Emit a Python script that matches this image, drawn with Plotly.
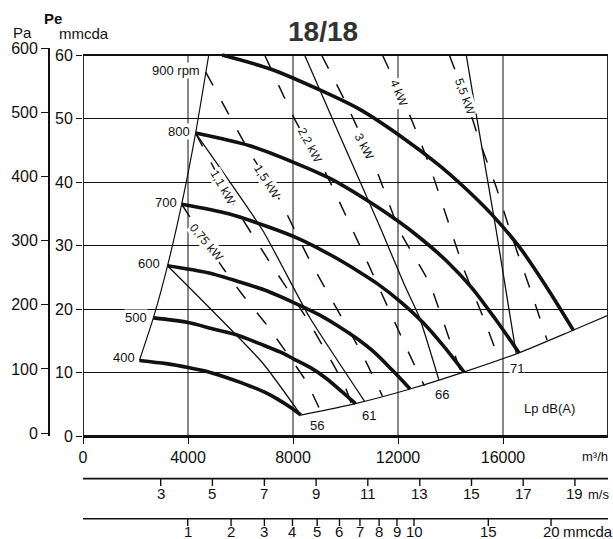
import plotly.graph_objects as go

# ---------------- data ----------------
# fan curves: flow Q (m3/h) and static pressure Pe (mmcda)
rpm_names = ["400", "500", "600", "700", "800", "900 rpm"]
q400 = [2150, 3170, 4010, 4690, 5400, 6020, 6400, 6920, 7410, 7870, 8300]
p400 = [11.9, 11.4, 10.8, 10.2, 9.3, 8.4, 7.8, 6.9, 5.8, 4.6, 3.3]
q500 = [2680, 3970, 5010, 5870, 6750, 7530, 8000, 8650, 9260, 9830, 10380]
p500 = [18.6, 17.9, 16.8, 15.9, 14.5, 13.2, 12.2, 10.8, 9.1, 7.1, 5.1]
q600 = [3220, 4760, 6010, 7040, 8090, 9040, 9610, 10380, 11120, 11800, 12460]
p600 = [26.8, 25.7, 24.2, 22.8, 20.9, 19.0, 17.6, 15.5, 13.1, 10.3, 7.4]
q700 = [3760, 5550, 7020, 8210, 9440, 10540, 11210, 12110, 12970, 13770, 14530]
p700 = [36.5, 35.0, 33.0, 31.1, 28.5, 25.8, 24.0, 21.1, 17.8, 14.0, 10.0]
q800 = [4290, 6350, 8020, 9390, 10790, 12050, 12810, 13840, 14820, 15730, 16610]
p800 = [47.7, 45.7, 43.1, 40.6, 37.2, 33.7, 31.3, 27.6, 23.3, 18.3, 13.1]
q900 = [5300, 7140, 9020, 10560, 12140, 13550, 14410, 15570, 16670, 17700, 18690]
p900 = [60.0, 57.8, 54.5, 51.4, 47.1, 42.7, 39.6, 34.9, 29.5, 23.2, 16.6]
rpm_q = [q400, q500, q600, q700, q800, q900]
rpm_p = [p400, p500, p600, p700, p800, p900]
rpm_label_q = [2015, 2471, 2966, 3612, 4106, 4486]
rpm_label_p = [12.3, 18.7, 27.2, 36.7, 47.9, 57.6]

# left limit line and lower (sound level) line
lim_q = [2150, 2680, 3220, 3760, 4290, 4790]
lim_p = [11.9, 18.6, 26.8, 36.5, 47.7, 60.0]
db_q = [8300, 10380, 12460, 14530, 16610, 18690, 20000]
db_p = [3.3, 5.1, 7.4, 10.1, 13.1, 16.7, 19.0]
db_names = ["56", "61", "66", "71"]
db_label_q = [8897, 10912, 13687, 16539]
db_label_p = [1.7, 3.3, 6.5, 10.7]

# thin solid lines (ending at 56 / 61 / 66 / 71 dB)
thin_q = [[3220, 6843, 8300],
          [4290, 6843, 8631, 10722],
          [8441, 9771, 11368, 12243, 12813, 13560],
          [14600, 14980, 15740, 16500]]
thin_p = [[26.8, 11.5, 3.3],
          [47.7, 32.4, 18.7, 5.5],
          [60.0, 47.4, 32.4, 23.8, 18.7, 8.8],
          [60.0, 50.6, 32.4, 13.0]]

# dashed absorbed power lines
kw_names = ["0,75 kW", "1,1 kW", "1,5 kW", "2,2 kW", "3 kW", "4 kW", "5,5 kW"]
kw_q = [[3760, 5323, 6083, 6996, 8517, 9050],
        [4290, 5703, 7110, 8555, 9962, 10228],
        [4676, 6350, 7490, 8631, 10646, 11406],
        [6920, 8137, 9125, 10532, 12319, 13004],
        [9087, 9962, 11178, 12052, 13193, 14068, 14410],
        [11406, 12319, 13193, 13954, 14524, 15360, 15854],
        [13954, 14562, 15094, 15740, 16348, 17071, 17679]]
kw_p = [[36.5, 26.5, 22.2, 17.5, 8.5, 3.9],
        [47.7, 36.7, 27.4, 18.3, 8.0, 5.0],
        [57.3, 44.7, 37.2, 27.7, 12.8, 6.3],
        [60.0, 49.3, 42.4, 30.1, 13.9, 7.9],
        [60.0, 52.9, 41.9, 32.4, 24.1, 13.9, 9.9],
        [60.0, 51.8, 42.7, 33.2, 26.1, 17.5, 12.0],
        [60.0, 53.4, 46.6, 39.2, 31.3, 22.7, 15.1]]
kw_label_q = [4723, 5320, 7020, 8638, 10720, 12030, 14562]
kw_label_p = [30.4, 39.2, 40.0, 45.8, 45.5, 54.0, 53.4]
kw_label_angle = [50, 60, 57, 62, 63, 68, 70]

# axes
q_ticks = [0, 4000, 8000, 12000, 16000]
q_grid = [4000, 8000, 12000, 16000]
pe_ticks = [0, 10, 20, 30, 40, 50, 60]
pa_ticks = [0, 100, 200, 300, 400, 500, 600]
# outlet velocity scale (m/s) placed at the flow values they correspond to
vel_labels = ["3", "5", "7", "9", "11", "13", "15", "17", "19"]
vel_q = [2960, 4930, 6910, 8880, 10850, 12830, 14800, 16770, 18740]
# dynamic pressure scale (mmcda)
pd_labels = ["1", "2", "3", "4", "5", "6", "7", "8", "9", "10", "15", "20"]
pd_q = [3990, 5640, 6910, 7980, 8920, 9770, 10550, 11280, 11960, 12610, 15440, 17830]

# ---------------- layout geometry (window pixels) ----------------
W, H = 613, 539
ML, MR, MT, MB = 20, 5, 48, 103
PW = W - ML - MR
PH = H - MT - MB
BOTTOM = H - MB   # 436


def fx(px):
    return (px - ML) / PW


def fy(py):
    return (BOTTOM - py) / PH


FONT = "Arial, Liberation Sans, sans-serif"
BLACK = "#111111"

fig = go.Figure()

for q, p in zip(rpm_q, rpm_p):
    fig.add_trace(go.Scatter(x=q, y=p, mode="lines",
                             line=dict(color=BLACK, width=3.6, shape="spline", smoothing=0.8),
                             hoverinfo="skip", showlegend=False))

fig.add_trace(go.Scatter(x=lim_q, y=lim_p, mode="lines",
                         line=dict(color=BLACK, width=1.2, shape="spline", smoothing=0.6),
                         hoverinfo="skip", showlegend=False))
fig.add_trace(go.Scatter(x=db_q, y=db_p, mode="lines",
                         line=dict(color=BLACK, width=1.2, shape="spline", smoothing=0.6),
                         hoverinfo="skip", showlegend=False))

for q, p in zip(thin_q, thin_p):
    fig.add_trace(go.Scatter(x=q, y=p, mode="lines",
                             line=dict(color=BLACK, width=1.3, shape="spline", smoothing=0.5),
                             hoverinfo="skip", showlegend=False))

for q, p in zip(kw_q, kw_p):
    fig.add_trace(go.Scatter(x=q, y=p, mode="lines",
                             line=dict(color=BLACK, width=1.5, dash="15px,18px",
                                       shape="spline", smoothing=0.5),
                             hoverinfo="skip", showlegend=False))

# dummy trace for the Pa axis
fig.add_trace(go.Scatter(x=[0], y=[0], yaxis="y2", mode="markers",
                         marker=dict(opacity=0), hoverinfo="skip", showlegend=False))

shapes = []
for g in q_grid:
    shapes.append(dict(type="line", xref="x", yref="y", x0=g, x1=g, y0=0, y1=60,
                       line=dict(color=BLACK, width=1), layer="below"))
shapes.append(dict(type="rect", xref="x", yref="y", x0=0, x1=20000, y0=0, y1=60,
                   line=dict(color=BLACK, width=1.8), layer="above"))

# lower scales
y_vel_line = fy(478.6)
y_vel_tick = fy(486)
y_pd_line = fy(518.8)
y_pd_tick = fy(526)
for y0 in (y_vel_line, y_pd_line):
    shapes.append(dict(type="line", xref="x", yref="paper", x0=0, x1=20000, y0=y0, y1=y0,
                       line=dict(color=BLACK, width=1.6)))
for v in vel_q:
    shapes.append(dict(type="line", xref="x", yref="paper", x0=v, x1=v,
                       y0=y_vel_line, y1=y_vel_tick, line=dict(color=BLACK, width=1.4)))
for v in pd_q:
    shapes.append(dict(type="line", xref="x", yref="paper", x0=v, x1=v,
                       y0=y_pd_line, y1=y_pd_tick, line=dict(color=BLACK, width=1.4)))

ann = []


def add_text(text, x, y, xref, yref, size, **kw):
    d = dict(text=text, x=x, y=y, xref=xref, yref=yref, showarrow=False,
             xanchor=kw.pop("xanchor", "center"), yanchor=kw.pop("yanchor", "middle"),
             font=dict(family=FONT, size=size, color=kw.pop("color", BLACK)))
    d.update(kw)
    ann.append(d)


for t, q in zip(vel_labels, vel_q):
    add_text(t, q, fy(494), "x", "paper", 15)
add_text("m/s", 19640, fy(495), "x", "paper", 13)
for t, q in zip(pd_labels, pd_q):
    add_text(t, q, fy(531), "x", "paper", 15)
add_text("mmcda", 19230, fy(531), "x", "paper", 15)
add_text("m³/h", 19500, fy(456), "x", "paper", 13)

# axis titles and chart title
add_text("Pa", fx(22), fy(33), "paper", "paper", 15)
add_text("<b>Pe</b>", fx(53), fy(18), "paper", "paper", 15)
add_text("mmcda", fx(84), fy(34), "paper", "paper", 15)
add_text("<b>18/18</b>", fx(323), fy(32), "paper", "paper", 28, color="#333333")

for t, q, p in zip(rpm_names, rpm_label_q, rpm_label_p):
    add_text(t, q, p, "x", "y", 13, xanchor="right", bgcolor="white", borderpad=0)
for t, q, p in zip(db_names, db_label_q, db_label_p):
    add_text(t, q, p, "x", "y", 13, bgcolor="white", borderpad=0)
add_text("Lp dB(A)", 17755, 4.4, "x", "y", 13)
for t, q, p, a in zip(kw_names, kw_label_q, kw_label_p, kw_label_angle):
    add_text(t, q, p, "x", "y", 12, textangle=a, bgcolor="white", borderpad=0)

fig.update_layout(
    width=W, height=H,
    margin=dict(l=ML, r=MR, t=MT, b=MB, autoexpand=False),
    paper_bgcolor="white", plot_bgcolor="white",
    showlegend=False,
    xaxis=dict(domain=[fx(83), 1], range=[0, 20000], tickvals=q_ticks,
               ticktext=[str(v) for v in q_ticks], ticks="outside", ticklen=6,
               tickcolor=BLACK, tickwidth=1.4, showgrid=False, zeroline=False,
               showline=True, linecolor=BLACK, linewidth=1.8,
               tickfont=dict(family=FONT, size=16, color=BLACK)),
    yaxis=dict(domain=[0, 1], range=[0, 388 / 6.35], tickvals=pe_ticks,
               ticks="outside", ticklen=6, tickcolor=BLACK, tickwidth=1.4,
               showgrid=True, gridcolor=BLACK, gridwidth=1, zeroline=False,
               showline=False, tickfont=dict(family=FONT, size=16, color=BLACK)),
    yaxis2=dict(overlaying="y", anchor="free", position=fx(49), side="left",
                range=[-4.5, 600], tickvals=pa_ticks, ticks="outside", ticklen=7,
                tickcolor=BLACK, tickwidth=1.4, showgrid=False, zeroline=False,
                showline=True, linecolor=BLACK, linewidth=1.8,
                tickfont=dict(family=FONT, size=16, color=BLACK)),
    shapes=shapes,
    annotations=ann,
)

fig.write_html(
    "out.html",
    config={"displayModeBar": False},
    post_script=("document.body.style.margin='0';"
                 "document.body.style.overflow='hidden';"
                 "document.documentElement.style.overflow='hidden';"),
)
